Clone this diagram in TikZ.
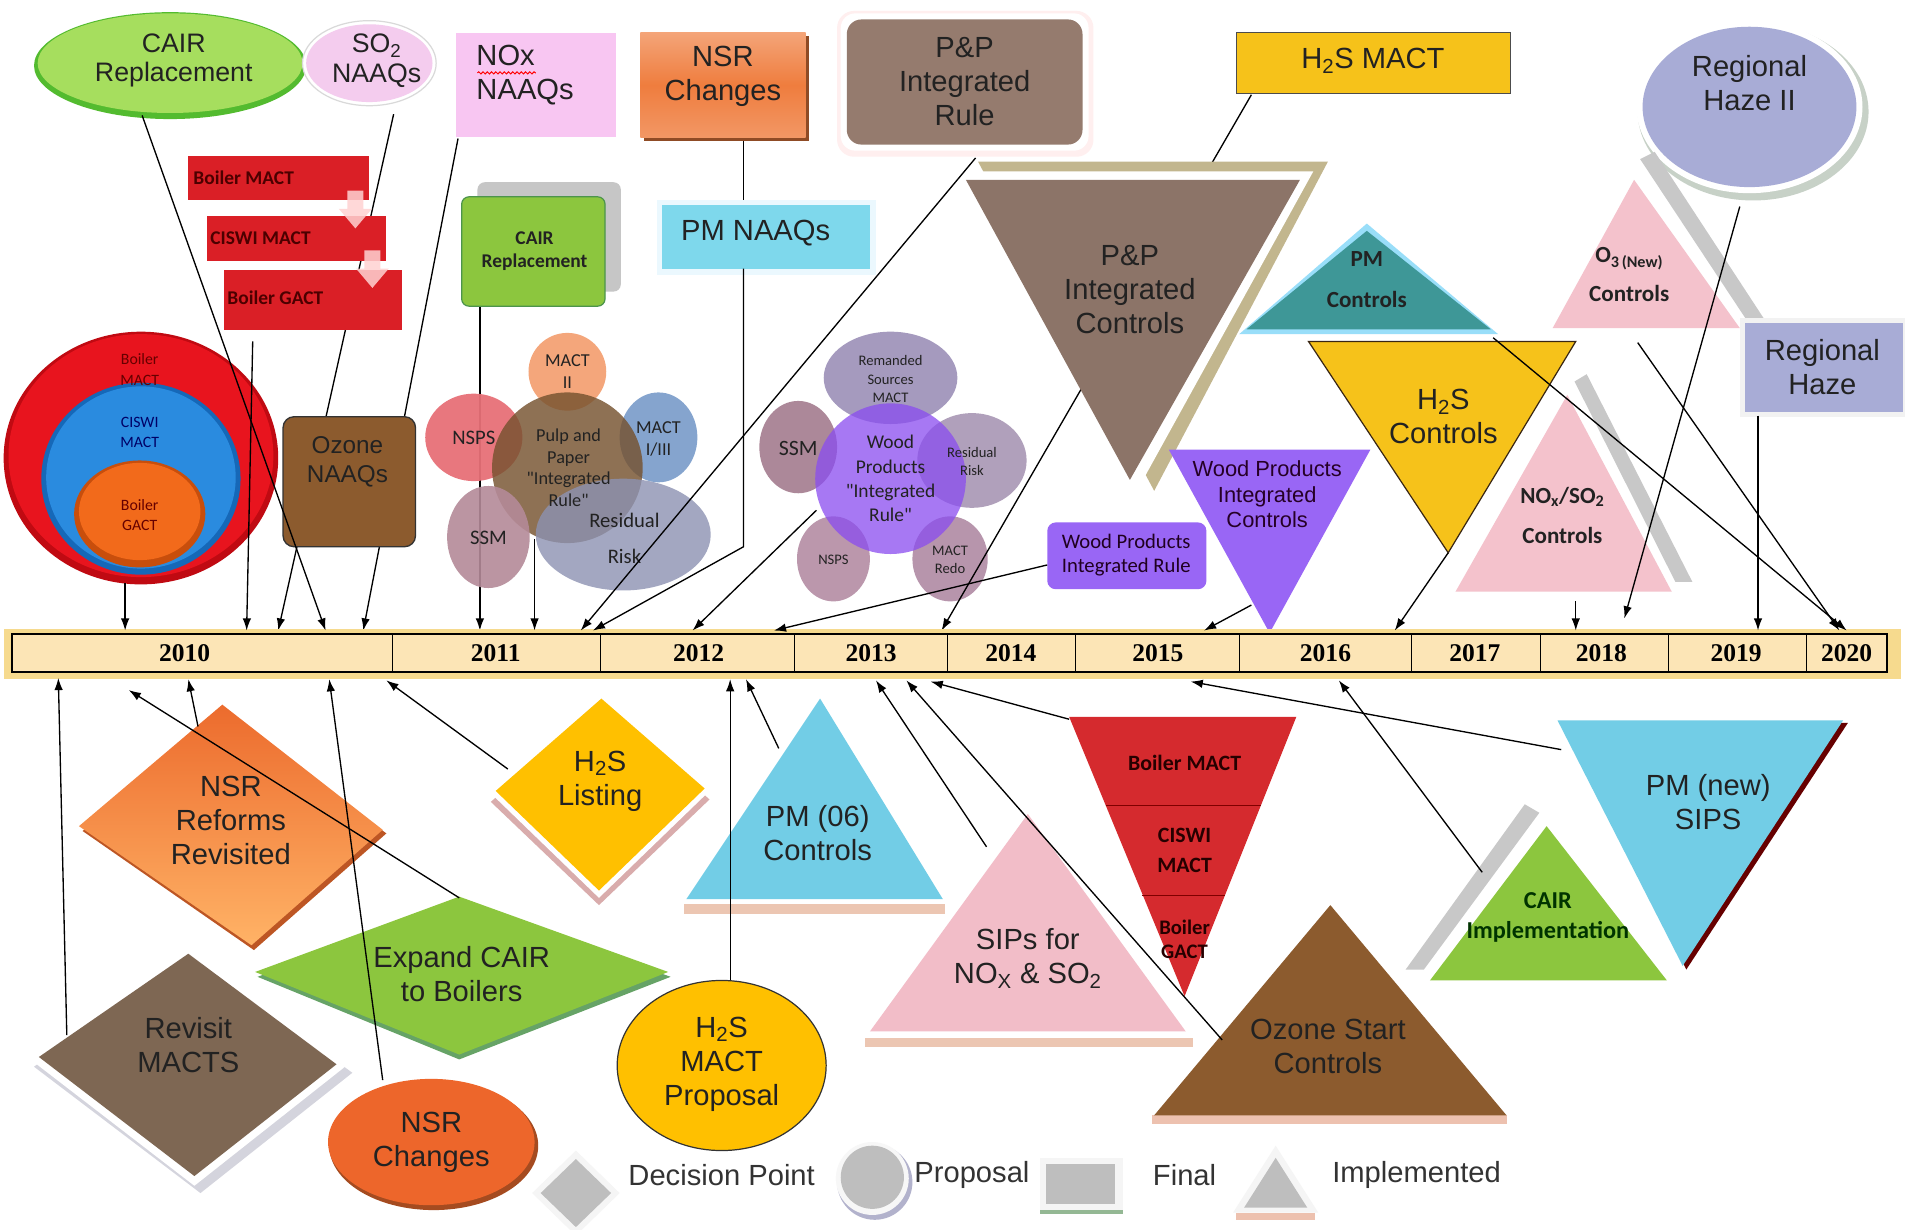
\documentclass[tikz,border=0pt]{standalone}
\usepackage{fontspec}
\setmainfont{Liberation Sans}
\newfontfamily\calfont{Carlito}
\newfontfamily\yearfont{Liberation Serif}
\usetikzlibrary{arrows.meta,shapes.geometric,decorations.pathmorphing}
\definecolor{cairgreen}{HTML}{A6DE5E}
\definecolor{sopink}{HTML}{F4CCEE}
\definecolor{noxpink}{HTML}{F8C6F2}
\definecolor{nsrorange}{HTML}{EF7D3E}
\definecolor{ppbrown}{HTML}{957B6E}
\definecolor{gold}{HTML}{F6C21A}
\definecolor{haze}{HTML}{A8ACD6}
\definecolor{boilred}{HTML}{DA1F26}
\definecolor{smgreen}{HTML}{8CC63E}
\definecolor{pmcyan}{HTML}{7ED8EC}
\definecolor{pptri}{HTML}{8C7468}
\definecolor{khaki}{HTML}{C2B68E}
\definecolor{teal}{HTML}{3E9797}
\definecolor{opink}{HTML}{F4C2CC}
\definecolor{stripe}{HTML}{C8C8C8}
\definecolor{ozbrown}{HTML}{8C5B2E}
\definecolor{purp}{HTML}{9966F5}
\definecolor{tlfill}{HTML}{FCE5B6}
\definecolor{tlglow}{HTML}{F6DA8E}
\definecolor{dorange}{HTML}{EC6B2D}
\definecolor{revbrown}{HTML}{7E6753}
\definecolor{yell}{HTML}{FFC000}
\definecolor{pmblue}{HTML}{72CDE6}
\definecolor{sips}{HTML}{F2BDC8}
\definecolor{redtri}{HTML}{D52A2E}
\definecolor{lgrey}{HTML}{BEBEBE}
\definecolor{txt}{HTML}{222222}
\definecolor{ccred}{HTML}{E8141E}
\definecolor{ccredd}{HTML}{C00A12}
\definecolor{ccblue}{HTML}{2A8BDF}
\definecolor{ccblued}{HTML}{1668B8}
\definecolor{ccor}{HTML}{F26A1B}
\definecolor{ccord}{HTML}{C84E0C}
\definecolor{cmII}{HTML}{F4A274}
\definecolor{cnsps}{HTML}{E77078}
\definecolor{cm13}{HTML}{7FA0CC}
\definecolor{cpulp}{HTML}{76522F}
\definecolor{crr}{HTML}{8C92B2}
\definecolor{cssm}{HTML}{B48A98}
\definecolor{crem}{HTML}{9C90B8}
\definecolor{cssm2}{HTML}{A47C8E}
\definecolor{crr2}{HTML}{A896B4}
\definecolor{cnsps2}{HTML}{B48CA4}
\definecolor{credo}{HTML}{B08AA4}
\definecolor{cwood}{HTML}{8A4CF0}
\tikzset{
 conn/.style={draw=black, line width=1.1pt},
 arr/.style={conn, -{Latex[length=10pt,width=7pt]}},
 big/.style={font=\fontsize{24}{28}\selectfont, align=center, inner sep=0pt, text=txt},
 mid/.style={font=\fontsize{20}{24}\selectfont, align=center, inner sep=0pt, text=txt},
 calb/.style={font=\calfont\bfseries\fontsize{16}{19}\selectfont, align=center, inner sep=0pt, text=txt},
 cal/.style={font=\calfont\fontsize{15}{18}\selectfont, align=center, inner sep=0pt, text=txt},
 yr/.style={font=\yearfont\bfseries\fontsize{21}{24}\selectfont, inner sep=0pt, text=black},
}
\begin{document}
\begin{tikzpicture}[x=1pt,y=-1pt]
\useasboundingbox (0,0) rectangle (1568,1012);
\fill[white] (0,0) rectangle (1568,1012);

% ---------- lines that pass behind shapes ----------
\coordinate (t395) at (395,519);
\coordinate (cairsm-o) at (395,252);
\draw[arr] (cairsm-o) -- (t395);

% ---------- concentric circles ----------
\fill[ccredd] (116,377) ellipse [x radius=113pt, y radius=104pt];
\fill[ccred] (116,375) ellipse [x radius=109pt, y radius=100pt];
\fill[ccblued] (116,394) ellipse [x radius=82pt, y radius=79pt];
\fill[ccblue] (116,393) ellipse [x radius=78pt, y radius=75pt];
\fill[ccord] (115,423) ellipse [x radius=54pt, y radius=44pt];
\fill[ccor] (115,421) ellipse [x radius=50pt, y radius=40pt];
\node[cal, font=\calfont\fontsize{13}{17}\selectfont, text=red!40!black] (cc1) at (115,304) {Boiler\\MACT};
\node[cal, font=\calfont\fontsize{13}{17}\selectfont, text=blue!40!black] (cc2) at (115,356) {CISWI\\MACT};
\node[cal, font=\calfont\fontsize{13}{17}\selectfont, text=red!40!black] (cc3) at (115,424) {Boiler\\GACT};
\coordinate (cc-o) at (103,480);

% ---------- pulp & paper cluster ----------
\fill[cmII, opacity=.95] (467,306) circle [radius=32pt];
\fill[cnsps, opacity=.95] (390,360) ellipse [x radius=40pt, y radius=36pt];
\fill[cm13, opacity=.95] (542,360) ellipse [x radius=32pt, y radius=37pt];
\fill[cpulp, opacity=.82] (467,385) circle [radius=62pt];
\fill[crr, opacity=.8] (513,440) ellipse [x radius=72pt, y radius=46pt];
\fill[cssm, opacity=.9] (402,442) ellipse [x radius=34pt, y radius=42pt];
\node[cal, font=\calfont\fontsize{15}{18}\selectfont] (m2) at (467,306) {MACT\\II};
\node[cal, font=\calfont\fontsize{17}{20}\selectfont] (nsps1) at (390,360) {NSPS};
\node[cal, font=\calfont\fontsize{15}{18}\selectfont] (m13) at (542,361) {MACT\\I/III};
\node[cal, font=\calfont\fontsize{15}{18}\selectfont] (pulp) at (468,385) {Pulp and\\Paper\\"Integrated\\Rule"};
\node[cal, font=\calfont\fontsize{17}{30}\selectfont] (rr1) at (514,443) {Residual\\Risk};
\node[cal, font=\calfont\fontsize{17}{20}\selectfont] (ssm1) at (402,443) {SSM};
\coordinate (pulp-o) at (440,444);

% ---------- wood products cluster ----------
\fill[crem, opacity=.9] (733,311) ellipse [x radius=55pt, y radius=38pt];
\fill[cssm2, opacity=.9] (657,368) ellipse [x radius=32pt, y radius=38pt];
\fill[crr2, opacity=.9] (800,379) ellipse [x radius=45pt, y radius=39pt];
\fill[cnsps2, opacity=.9] (686,460) ellipse [x radius=30pt, y radius=35pt];
\fill[credo, opacity=.9] (782,460) ellipse [x radius=31pt, y radius=35pt];
\fill[cwood, opacity=.75] (733,394) circle [radius=62pt];
\node[cal, font=\calfont\fontsize{12}{15}\selectfont] (rem) at (733,312) {Remanded\\Sources\\MACT};
\node[cal, font=\calfont\fontsize{18}{20}\selectfont] (ssm2) at (657,369) {SSM};
\node[cal, font=\calfont\fontsize{12}{15}\selectfont] (rr2) at (800,380) {Residual\\Risk};
\node[cal, font=\calfont\fontsize{12}{15}\selectfont] (nsps2) at (686,461) {NSPS};
\node[cal, font=\calfont\fontsize{12}{15}\selectfont] (redo) at (782,461) {MACT\\Redo};
\node[cal, font=\calfont\fontsize{16}{20}\selectfont] (wood) at (733,394) {Wood\\Products\\"Integrated\\Rule"};
\coordinate (wood-o) at (672,420);

% hidden lines (behind boxes/triangles)
\coordinate (so2-o) at (324,94);
\coordinate (t228) at (229,519);
\draw[arr] (so2-o) -- (t228);
\coordinate (nox-o) at (377,114);
\coordinate (t300) at (299,519);
\draw[arr] (nox-o) -- (t300);
\coordinate (h2sm-o) at (1030,78);
\coordinate (t775) at (775,519);
\draw[arr] (h2sm-o) -- (t775);
\coordinate (nsrtop-o) at (612,113);
\coordinate (pmn-i) at (612,168);
\draw[conn] (nsrtop-o) -- (pmn-i);

% ---------- top row ----------
\node[ellipse, minimum width=224pt, minimum height=88pt, fill=green!60!black!50!cairgreen] (cairx) at (140,54) {};
\node[ellipse, minimum width=218pt, minimum height=82pt, fill=cairgreen] (cairtop) at (140,52) {};
\node[big, font=\fontsize{22}{24}\selectfont] at (143,50) {CAIR\\Replacement};

\node[ellipse, minimum width=110pt, minimum height=70pt, fill=white, draw=gray!30, line width=1pt] (so2x) at (304,52) {};
\node[ellipse, minimum width=104pt, minimum height=64pt, fill=sopink] (so2) at (304,52) {};
\node[big, font=\fontsize{22}{24}\selectfont] at (310,50) {SO\textsubscript{2}\\NAAQs};

\fill[noxpink] (375,27) rectangle (507,113);
\node[big, align=left, anchor=west] (nox) at (392,62) {NOx\\NAAQs};
\draw[red, line width=0.8pt, decorate, decoration={snake, amplitude=0.9pt, segment length=3.5pt}] (393,60) -- (441,60);

\fill[nsrorange!60!black] (530,30) rectangle (666,116);
\shade[top color=nsrorange!70!white, bottom color=nsrorange!80!white, middle color=nsrorange] (527,27) rectangle (663,113);
\node[big] (nsrtop) at (595,63) {NSR\\Changes};

\fill[pink!25!white, rounded corners=14pt] (689,9) rectangle (900,129);
\fill[white, rounded corners=12pt] (692,11) rectangle (896,124);
\fill[ppbrown, rounded corners=12pt] (697,16) rectangle (891,119);
\node[big] (pprule) at (794,67) {P\&P\\Integrated\\Rule};
\coordinate (pprule-o) at (803,130);

\fill[gold] (1018,27) rectangle (1243,77);
\draw[black!70, line width=0.8pt] (1018,27) rectangle (1243,77);
\node[big] (h2sm) at (1130,50) {H\textsubscript{2}S MACT};

\fill[green!10!gray!40!white] (1443,92) ellipse [x radius=95pt, y radius=73pt];
\fill[white] (1440,88) ellipse [x radius=93pt, y radius=71pt];
\fill[haze] (1440,88) ellipse [x radius=88pt, y radius=66pt];
\node[big] (rh2) at (1440,68) {Regional\\Haze II};
\coordinate (rh2-o) at (1432,170);

% ---------- red boxes ----------
\fill[boilred] (155,128) rectangle (304,165);
\fill[boilred] (170,178) rectangle (318,215);
\fill[boilred] (184,222) rectangle (331,272);
\fill[pink!70!white, opacity=.85] (286,157) -- (299,157) -- (299,172) -- (306,172) -- (292.5,188) -- (279,172) -- (286,172) -- cycle;
\fill[pink!70!white, opacity=.85] (300,206) -- (313,206) -- (313,221) -- (320,221) -- (306.5,237) -- (293,221) -- (300,221) -- cycle;
\node[calb, anchor=west, text=red!30!black] (bm) at (159,146) {Boiler MACT};
\node[calb, anchor=west, text=red!30!black] (cm) at (173,196) {CISWI MACT};
\node[calb, anchor=west, text=red!30!black] (bg) at (187,245) {Boiler GACT};
\coordinate (bg-o) at (208,281);
\coordinate (t203) at (203,519);

% Ozone NAAQs
\fill[ozbrown, rounded corners=9pt] (233,343) rectangle (342,450);
\draw[black!80, line width=1.1pt, rounded corners=9pt] (233,343) rectangle (342,450);
\node[mid] (ozn) at (286,380) {Ozone\\NAAQs};

% small CAIR Replacement
\fill[gray!45!white, rounded corners=6pt] (393,150) rectangle (511,240);
\fill[smgreen, rounded corners=6pt] (380,162) rectangle (498,252);
\draw[green!40!black!70, line width=1pt, rounded corners=6pt] (380,162) rectangle (498,252);
\node[calb] (cairsm) at (440,207) {CAIR\\Replacement};

% PM NAAQs
\fill[cyan!8!white] (541,165) rectangle (721,226);
\fill[pmcyan] (545,169) rectangle (716,221);
\node[big] (pmn) at (622,192) {PM NAAQs};
\coordinate (pmn-o) at (612,221);

% P&P Integrated Controls triangle
\fill[khaki] (805,133) -- (1093,133) -- (950,404) -- cycle;
\fill[white] (800,141) -- (1081,141) -- (938,400) -- cycle;
\fill[pptri] (795,148) -- (1070,148) -- (930,395) -- cycle;
\node[big] (ppc) at (930,238) {P\&P\\Integrated\\Controls};

% PM Controls
\fill[cyan!40!white] (1020,275) -- (1233,275) -- (1125,184) -- cycle;
\fill[teal] (1026,271) -- (1227,271) -- (1125,190) -- cycle;
\node[calb, font=\calfont\bfseries\fontsize{19}{34}\selectfont] (pmc) at (1125,230) {PM\\Controls};

% O3 controls
\fill[stripe] (1350,131) -- (1362,125) -- (1453,264) -- (1438,264) -- cycle;
\fill[opink] (1278,270) -- (1432,270) -- (1345,148) -- cycle;
\node[calb, font=\calfont\bfseries\fontsize{19}{32}\selectfont] (o3) at (1341,226) {O\textsubscript{3\,(New)}\\Controls};
\coordinate (o3-o) at (1348,282);

% Regional Haze box
\fill[white!90!gray] (1432,262) rectangle (1568,343);
\fill[haze] (1436,266) rectangle (1566,339);
\node[big] (rh) at (1500,302) {Regional\\Haze};
\coordinate (rh-o) at (1447,342);

% H2S Controls
\fill[gold] (1077,281) -- (1297,281) -- (1192,455) -- cycle;
\draw[black!70!brown, line width=1pt] (1077,281) -- (1297,281) -- (1192,455) -- cycle;
\node[big] (h2sc) at (1188,343) {H\textsubscript{2}S\\Controls};
\coordinate (h2sc-o) at (1192,455);

% Wood Products Integrated Controls
\fill[purp] (962,370) -- (1128,370) -- (1045,521) -- cycle;
\node[mid, font=\fontsize{18}{21}\selectfont, text=violet!30!black] (wpc) at (1043,407) {Wood Products\\Integrated\\Controls};
\coordinate (wpc-o) at (1030,498);

% NOx/SO2 Controls
\fill[stripe] (1296,314) -- (1306,308) -- (1393,479) -- (1379,479) -- cycle;
\fill[opink] (1198,487) -- (1376,487) -- (1290,325) -- cycle;
\node[calb, font=\calfont\bfseries\fontsize{19}{33}\selectfont] (noxc) at (1286,424) {NO\textsubscript{x}/SO\textsubscript{2}\\Controls};
\coordinate (noxc-o) at (1297,495);

% Wood Products Integrated Rule box
\fill[purp, rounded corners=7pt] (862,430) rectangle (993,485);
\node[cal, font=\calfont\fontsize{17}{20}\selectfont, text=violet!25!black] (wpr) at (927,457) {Wood Products\\Integrated Rule};
\coordinate (wpr-o) at (862,465);

% ---------- timeline ----------
\fill[tlglow] (3,518) rectangle (1565,559);
\fill[tlfill] (10,522) rectangle (1553,553);
\draw[black, line width=1.2pt] (10,522) rectangle (1553,553);
\foreach \xx in {323,494,654,780,885,1020,1162,1268,1373,1487}
  \draw[black, line width=1pt] (\xx,522) -- (\xx,553);
\node[yr] (y10) at (152,538) {2010};
\node[yr] (y11) at (408,538) {2011};
\node[yr] (y12) at (575,538) {2012};
\node[yr] (y13) at (717,538) {2013};
\node[yr] (y14) at (832,538) {2014};
\node[yr] (y15) at (953,538) {2015};
\node[yr] (y16) at (1091,538) {2016};
\node[yr] (y17) at (1214,538) {2017};
\node[yr] (y18) at (1318,538) {2018};
\node[yr] (y19) at (1429,538) {2019};
\node[yr] (y20) at (1520,538) {2020};

% timeline points
\coordinate (t103) at (103,519);
\coordinate (t268) at (268,519);
\coordinate (t440) at (440,519);
\coordinate (t478) at (478,519);
\coordinate (t488) at (488,519);
\coordinate (t570) at (570,519);
\coordinate (t637) at (637,519);
\coordinate (t991) at (991,519);
\coordinate (t1148) at (1148,519);
\coordinate (t1297) at (1297,519);
\coordinate (t1337) at (1337,509);
\coordinate (t1447) at (1447,519);
\coordinate (t1515) at (1514,519);
\coordinate (t1520) at (1520,519);
\coordinate (b48) at (48,558);
\coordinate (b106) at (106,568);
\coordinate (b155) at (155,559);
\coordinate (b271) at (271,559);
\coordinate (b318) at (318,560);
\coordinate (b601) at (601,559);
\coordinate (b614) at (614,559);
\coordinate (b721) at (721,560);
\coordinate (b746) at (746,560);
\coordinate (b766) at (766,561);
\coordinate (b980) at (980,561);
\coordinate (b1102) at (1102,560);

% ---------- bottom shapes ----------
% NSR Reforms Revisited
\fill[dorange!80!black] (68,684) -- (185,584) -- (318,686) -- (209,782) -- cycle;
\shade[top color=dorange, bottom color=orange!60!white] (65,680) -- (183,580) -- (315,683) -- (207,778) -- cycle;
\node[big] (nsrr) at (190,675) {NSR\\Reforms\\Revisited};
\coordinate (nsrr-o) at (163,598);

% H2S listing
\fill[pink!70!gray] (404,660) -- (495,580) -- (584,658) -- (493,745) -- cycle;
\fill[white] (404,653) -- (495,574) -- (583,652) -- (493,739) -- cycle;
\fill[yell] (408,651) -- (495,575) -- (580,649) -- (493,733) -- cycle;
\node[big] (h2sl) at (494,643) {H\textsubscript{2}S\\Listing};
\coordinate (h2sl-o) at (418,633);

% PM (06) controls
\fill[pink!50!brown!60!white] (563,744) rectangle (778,752);
\fill[pmblue] (565,740) -- (776,740) -- (675,575) -- cycle;
\node[big] (pm06) at (673,686) {PM (06)\\Controls};
\coordinate (pm06-o) at (641,616);

% Expand CAIR
\fill[green!40!black!60] (212,804) -- (378,742) -- (552,804) -- (378,872) -- cycle;
\fill[smgreen] (210,800) -- (378,738) -- (550,800) -- (378,868) -- cycle;
\node[big] (ecair) at (380,802) {Expand CAIR\\to Boilers};
\coordinate (ecair-o) at (378,739);

% Revisit MACTS
\fill[blue!12!gray!30!white] (28,878) -- (158,786) -- (290,883) -- (165,982) -- cycle;
\fill[white] (25,872) -- (155,780) -- (284,878) -- (160,976) -- cycle;
\fill[revbrown] (32,870) -- (155,785) -- (277,876) -- (160,968) -- cycle;
\node[big] (rev) at (155,860) {Revisit\\MACTS};
\coordinate (rev-o) at (55,852);

% NSR Changes ellipse
\fill[dorange!70!black] (357,943) ellipse [x radius=86pt, y radius=53pt];
\fill[dorange!95!red] (355,940) ellipse [x radius=85pt, y radius=52pt];
\node[big] (nsrc) at (355,940) {NSR\\Changes};
\coordinate (nsrc-o) at (315,889);

% H2S MACT Proposal
\fill[yell] (594,877) ellipse [x radius=86pt, y radius=70pt];
\draw[black!80, line width=1pt] (594,877) ellipse [x radius=86pt, y radius=70pt];
\node[big] (h2sp) at (594,876) {H\textsubscript{2}S\\MACT\\Proposal};
\coordinate (h2sp-o) at (601,807);

% SIPs for NOx & SO2
\fill[pink!50!brown!60!white] (712,854) rectangle (982,862);
\fill[white] (710,851) -- (981,851) -- (846,664) -- cycle;
\fill[sips] (716,849) -- (976,849) -- (846,670) -- cycle;
\node[big] (sips) at (846,789) {SIPs for\\NO\textsubscript{X} \& SO\textsubscript{2}};
\coordinate (sips-o) at (812,697);

% Boiler MACT / CISWI / GACT triangle
\fill[redtri] (880,590) -- (1067,590) -- (975,820) -- cycle;
\draw[red!50!black, line width=0.8pt] (910,663) -- (1038,663);
\draw[red!50!black, line width=0.8pt] (940,737) -- (1008,737);
\node[calb, font=\calfont\bfseries\fontsize{18}{24}\selectfont, text=red!15!black] (tbm) at (975,628) {Boiler MACT};
\node[calb, font=\calfont\bfseries\fontsize{18}{24}\selectfont, text=red!15!black] (tcm) at (975,700) {CISWI\\MACT};
\node[calb, font=\calfont\bfseries\fontsize{17}{20}\selectfont, text=red!15!black] (tbg) at (975,773) {Boiler\\GACT};
\coordinate (tbm-o) at (880,592);

% Ozone Start Controls
\fill[pink!60!brown!70!white] (948,918) rectangle (1240,925);
\fill[ozbrown] (950,918) -- (1240,918) -- (1095,745) -- cycle;
\node[big] (ozs) at (1093,861) {Ozone Start\\Controls};
\coordinate (ozs-o) at (1006,856);

% CAIR Implementation
\fill[stripe] (1255,662) -- (1267,669) -- (1172,798) -- (1157,798) -- cycle;
\fill[smgreen] (1177,807) -- (1372,807) -- (1273,680) -- cycle;
\node[calb, font=\calfont\bfseries\fontsize{20}{25}\selectfont, text=green!20!black] (cimp) at (1274,755) {CAIR\\Implementation};
\coordinate (cimp-o) at (1220,718);

% PM (new) SIPS
\fill[red!40!black] (1285,595) -- (1521,595) -- (1388,798) -- cycle;
\fill[pmblue] (1282,593) -- (1517,593) -- (1385,795) -- cycle;
\node[big] (pmnew) at (1406,660) {PM (new)\\SIPS};
\coordinate (pmnew-o) at (1285,617);

% ---------- visible connectors ----------
\draw[arr] (cc-o) -- (t103);
\draw[arr] (bg-o) -- (t203);
\coordinate (cairtop-o) at (117,95);
\draw[arr] (cairtop-o) -- (t268);
\draw[arr] (pulp-o) -- (t440);
\draw[arr] (pprule-o) -- (t478);
\coordinate (bend) at (612,450);
\draw[arr] (pmn-o) -- (bend) -- (t488);
\draw[arr] (wood-o) -- (t570);
\draw[arr] (wpr-o) -- (t637);
\draw[arr] (wpc-o) -- (t991);
\draw[arr] (h2sc-o) -- (t1148);
\draw[arr] (noxc-o) -- (t1297);
\draw[arr] (rh2-o) -- (t1337);
\draw[arr] (rh-o) -- (t1447);
\coordinate (pmc-o) at (1229,278);
\draw[arr] (pmc-o) -- (t1520);
\draw[arr] (o3-o) -- (t1515);

\draw[arr] (rev-o) -- (b48);
\draw[arr] (ecair-o) -- (b106);
\draw[arr] (nsrr-o) -- (b155);
\draw[arr] (nsrc-o) -- (b271);
\draw[arr] (h2sl-o) -- (b318);
\draw[arr] (h2sp-o) -- (b601);
\draw[arr] (pm06-o) -- (b614);
\draw[arr] (sips-o) -- (b721);
\draw[arr] (ozs-o) -- (b746);
\draw[arr] (tbm-o) -- (b766);
\draw[arr] (pmnew-o) -- (b980);
\draw[arr] (cimp-o) -- (b1102);

% ---------- legend ----------
\fill[white!92!gray] (474,947) -- (510,982) -- (474,1017) -- (438,982) -- cycle;
\fill[lgrey] (474,954) -- (503,982) -- (474,1010) -- (445,982) -- cycle;
\node[big, text=black!80] (lg1) at (594,967) {Decision Point};
\fill[blue!20!gray!50!white] (720,973) circle [radius=31pt];
\fill[white!94!gray] (718,970) circle [radius=30pt];
\fill[lgrey] (718,969) circle [radius=26pt];
\node[big, text=black!80] (lg2) at (800,967) {Proposal};
\fill[green!20!gray!70!white] (856,993) rectangle (924,999);
\fill[white!92!gray] (856,953) rectangle (924,996);
\fill[lgrey] (861,958) rectangle (918,991);
\node[big, text=black!80] (lg3) at (975,967) {Final};
\fill[pink!60!brown!70!white] (1017,998) rectangle (1082,1004);
\fill[white!92!gray] (1015,998) -- (1085,998) -- (1050,943) -- cycle;
\fill[lgrey] (1024,994) -- (1076,994) -- (1050,953) -- cycle;
\node[big, text=black!80] (lg4) at (1166,967) {Implemented};
\end{tikzpicture}
\end{document}
